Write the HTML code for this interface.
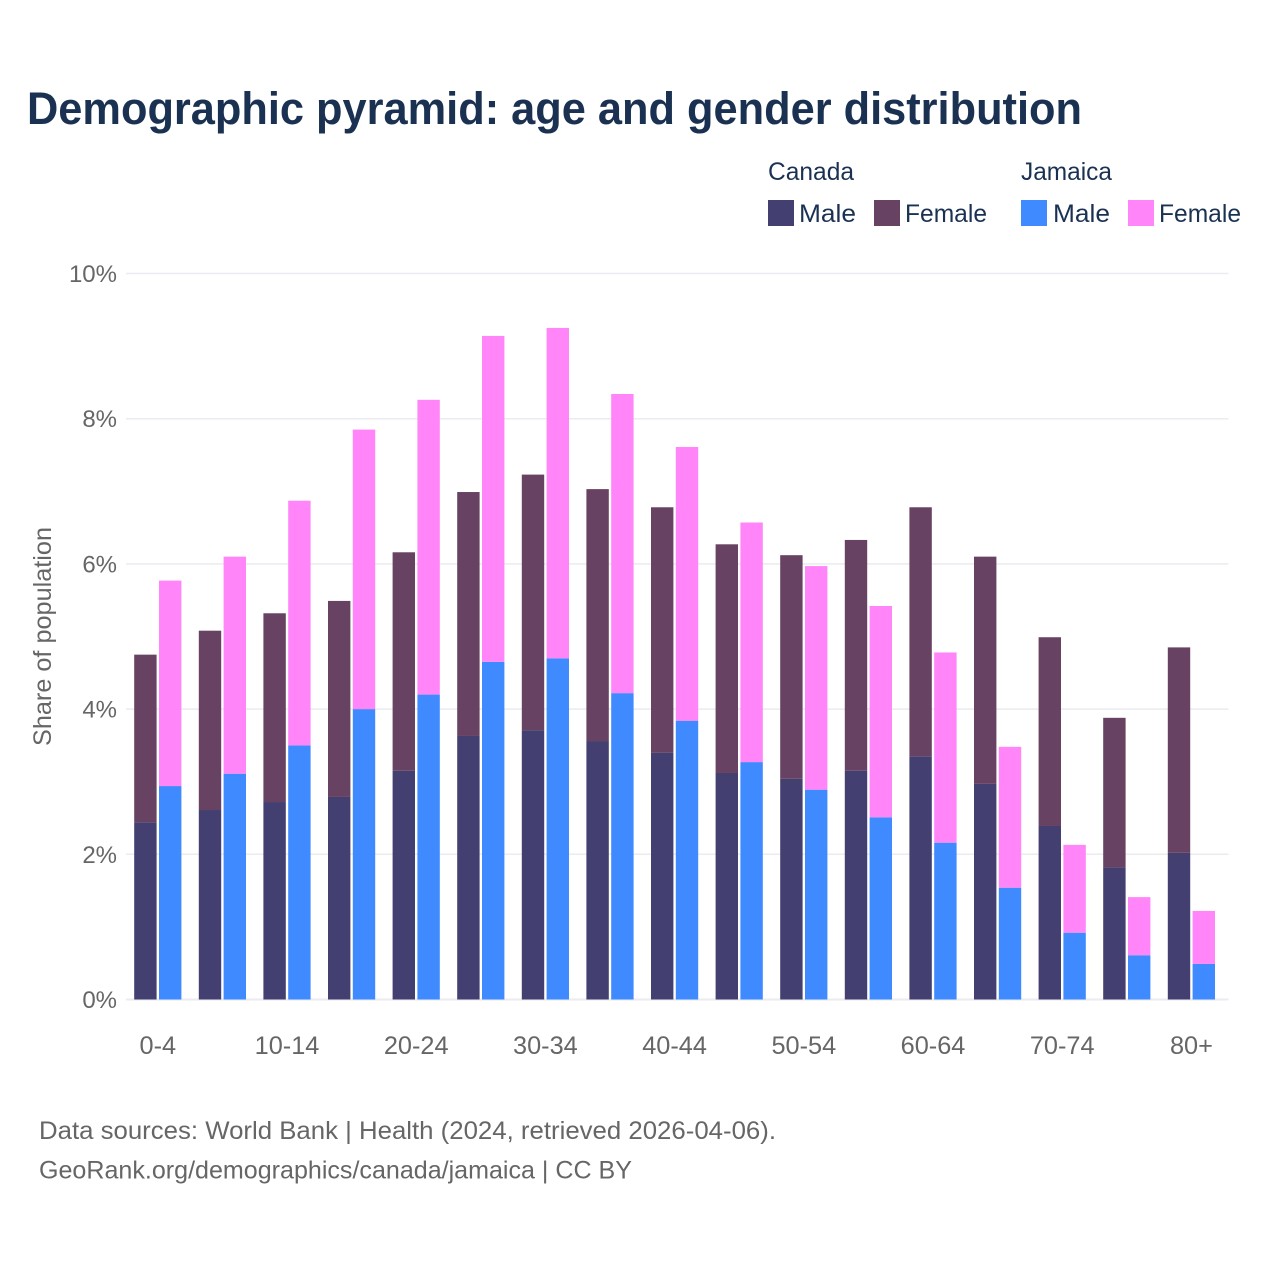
<!DOCTYPE html>
<html lang="en">
<head>
<meta charset="utf-8">
<title>Demographic pyramid: age and gender distribution</title>
<style>
html,body{margin:0;padding:0;background:#fff}
svg{display:block}
text{font-family:"Liberation Sans",Arial,sans-serif}
.tick{font-size:24px;fill:#666}
.xtick{font-size:25.3px;fill:#666}
.legend{font-size:25px;fill:#1a3152}
.foot{font-size:25px;fill:#666}
</style>
</head>
<body>
<svg id="chart" xmlns="http://www.w3.org/2000/svg" width="1280" height="1280" viewBox="0 0 1280 1280">
  <text x="27" y="124" font-size="45" font-weight="700" fill="#1a3152" textLength="1055" lengthAdjust="spacingAndGlyphs">Demographic pyramid: age and gender distribution</text>

  <g>
    <text class="legend" x="768" y="180" textLength="86" lengthAdjust="spacingAndGlyphs">Canada</text>
    <text class="legend" x="1021" y="180" textLength="91" lengthAdjust="spacingAndGlyphs">Jamaica</text>
    <rect x="768" y="200" width="26" height="26" fill="#433f70"/>
    <text class="legend" x="799" y="222" textLength="57" lengthAdjust="spacingAndGlyphs">Male</text>
    <rect x="874" y="200" width="26" height="26" fill="#684262"/>
    <text class="legend" x="905" y="222" textLength="82" lengthAdjust="spacingAndGlyphs">Female</text>
    <rect x="1021" y="200" width="26" height="26" fill="#3f8aff"/>
    <text class="legend" x="1053" y="222" textLength="57" lengthAdjust="spacingAndGlyphs">Male</text>
    <rect x="1128" y="200" width="26" height="26" fill="#ff85f8"/>
    <text class="legend" x="1159" y="222" textLength="82" lengthAdjust="spacingAndGlyphs">Female</text>
  </g>

  <g id="grid"></g>
  <g id="yticks"></g>
  <g id="bars"></g>
  <g id="xticks"></g>

  <text class="tick" transform="translate(51,746) rotate(-90)" x="0" y="0" font-size="25" textLength="219" lengthAdjust="spacingAndGlyphs" style="font-size:25px">Share of population</text>

  <text class="foot" x="39" y="1139" textLength="737" lengthAdjust="spacingAndGlyphs">Data sources: World Bank | Health (2024, retrieved 2026-04-06).</text>
  <text class="foot" x="39" y="1178.5" textLength="593" lengthAdjust="spacingAndGlyphs">GeoRank.org/demographics/canada/jamaica | CC BY</text>
</svg>

<script>
const categories = ["0-4","5-9","10-14","15-19","20-24","25-29","30-34","35-39","40-44","45-49","50-54","55-59","60-64","65-69","70-74","75-79","80+"];
const yTickValues = [0,2,4,6,8,10];
const canadaMale = [2.44,2.61,2.72,2.79,3.15,3.63,3.71,3.56,3.40,3.12,3.04,3.15,3.35,2.97,2.39,1.82,2.02];
const canadaFemale = [2.31,2.47,2.60,2.70,3.01,3.36,3.52,3.47,3.38,3.15,3.08,3.18,3.43,3.13,2.60,2.06,2.83];
const jamaicaMale = [2.94,3.11,3.50,4.00,4.20,4.65,4.70,4.22,3.84,3.27,2.89,2.51,2.16,1.54,0.92,0.61,0.49];
const jamaicaFemale = [2.83,2.99,3.37,3.85,4.06,4.49,4.55,4.12,3.77,3.30,3.08,2.91,2.62,1.94,1.21,0.80,0.73];

const NS = "http://www.w3.org/2000/svg";
const yScale = function (v) { return 999.5 - v * 72.6; };
const xCenter = function (i) { return 157.8 + i * 64.6; };
const BAR_W = 22.4;
const BAR_GAP = 2.4;

const gridG = document.getElementById("grid");
const yG = document.getElementById("yticks");
const xG = document.getElementById("xticks");
const barsG = document.getElementById("bars");

yTickValues.forEach(function (v) {
  const line = document.createElementNS(NS, "line");
  line.setAttribute("x1", 126);
  line.setAttribute("x2", 1228.5);
  line.setAttribute("y1", yScale(v));
  line.setAttribute("y2", yScale(v));
  line.setAttribute("stroke", "#ebebf1");
  line.setAttribute("stroke-width", v === 0 ? 2 : 1.5);
  
  
  gridG.appendChild(line);

  const label = document.createElementNS(NS, "text");
  label.setAttribute("class", "tick");
  label.setAttribute("x", 117);
  label.setAttribute("y", yScale(v) + 8.5);
  label.setAttribute("text-anchor", "end");
  label.textContent = v + "%";
  
  
  yG.appendChild(label);
});

categories.forEach(function (cat, i) {
  if (i % 2 === 0) {
    const label = document.createElementNS(NS, "text");
    label.setAttribute("class", "xtick");
    label.setAttribute("x", xCenter(i));
    label.setAttribute("y", 1054);
    label.setAttribute("text-anchor", "middle");
    label.textContent = cat;
    
    
    xG.appendChild(label);
  }

  const left = xCenter(i) - BAR_GAP / 2 - BAR_W;
  const right = xCenter(i) + BAR_GAP / 2;

  const segCM = document.createElementNS(NS, "rect");
  segCM.setAttribute("x", left);
  segCM.setAttribute("width", BAR_W);
  segCM.setAttribute("y", yScale(canadaMale[i]));
  segCM.setAttribute("height", yScale(0) - yScale(canadaMale[i]));
  segCM.setAttribute("fill", "#433f70");
  
  
  barsG.appendChild(segCM);

  const segCF = document.createElementNS(NS, "rect");
  segCF.setAttribute("x", left);
  segCF.setAttribute("width", BAR_W);
  segCF.setAttribute("y", yScale(canadaMale[i] + canadaFemale[i]));
  segCF.setAttribute("height", yScale(canadaMale[i]) - yScale(canadaMale[i] + canadaFemale[i]));
  segCF.setAttribute("fill", "#684262");
  
  
  barsG.appendChild(segCF);

  const segJM = document.createElementNS(NS, "rect");
  segJM.setAttribute("x", right);
  segJM.setAttribute("width", BAR_W);
  segJM.setAttribute("y", yScale(jamaicaMale[i]));
  segJM.setAttribute("height", yScale(0) - yScale(jamaicaMale[i]));
  segJM.setAttribute("fill", "#3f8aff");
  
  
  barsG.appendChild(segJM);

  const segJF = document.createElementNS(NS, "rect");
  segJF.setAttribute("x", right);
  segJF.setAttribute("width", BAR_W);
  segJF.setAttribute("y", yScale(jamaicaMale[i] + jamaicaFemale[i]));
  segJF.setAttribute("height", yScale(jamaicaMale[i]) - yScale(jamaicaMale[i] + jamaicaFemale[i]));
  segJF.setAttribute("fill", "#ff85f8");
  
  
  barsG.appendChild(segJF);
});
</script>
</body>
</html>
